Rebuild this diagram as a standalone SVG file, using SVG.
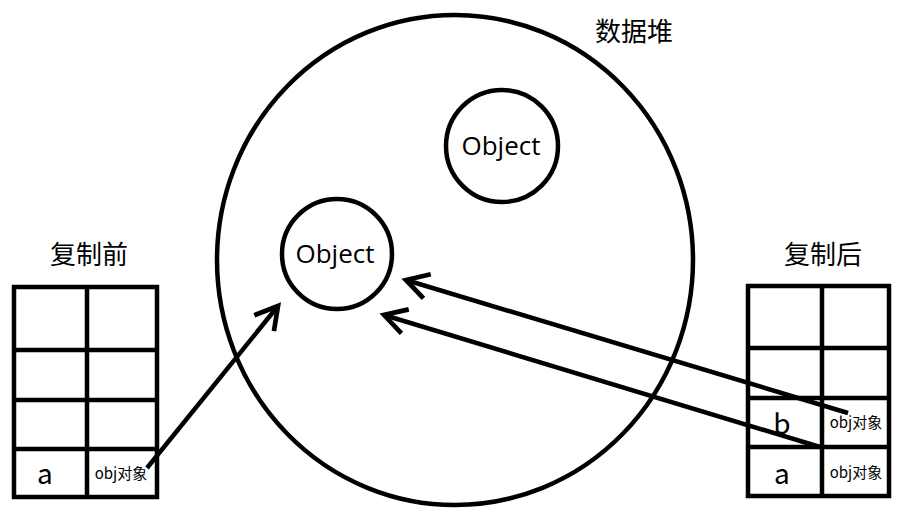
<svg xmlns="http://www.w3.org/2000/svg" width="924" height="513" viewBox="0 0 924 513">
<style>
.s{fill:none;stroke:#000;stroke-width:4.5}
.t{font-family:"Noto Sans CJK SC","Liberation Sans",sans-serif;fill:#000}
.big{font-size:26px}
.obj{font-family:"Open Sans","Liberation Sans",sans-serif;font-size:26px;text-anchor:middle}
</style>
<defs>
<marker id="ah" viewBox="0 0 20 20" refX="16" refY="10" markerWidth="7" markerHeight="7" markerUnits="strokeWidth" orient="auto">
<path d="M2,2 L16,10 L2,18" fill="none" stroke="#000" stroke-width="3"/>
</marker>
</defs>
<rect width="924" height="513" fill="#fff"/>
<g id="heap">
<ellipse class="s" cx="455" cy="260" rx="238" ry="245"/>
<text class="t big" x="634" y="41" text-anchor="middle">数据堆</text>
</g>
<g id="obj1"><circle class="s" cx="502" cy="146" r="56"/><text class="t obj" x="501" y="155">Object</text></g>
<g id="obj2"><circle class="s" cx="337" cy="254" r="55"/><text class="t obj" x="335" y="263">Object</text></g>
<g id="before">
<text class="t big" x="89" y="264" text-anchor="middle">复制前</text>
<rect class="s" x="14" y="287" width="143" height="210"/>
<path class="s" d="M87,287V497M14,350H157M14,400H157M14,449H157"/>
<text class="t" x="45" y="484" font-size="28" text-anchor="middle">a</text>
<text class="t" x="121" y="479" font-size="15" text-anchor="middle">obj对象</text>
</g>
<g id="after">
<text class="t big" x="823" y="264" text-anchor="middle">复制后</text>
<rect class="s" x="748" y="286" width="141" height="210"/>
<path class="s" d="M822,286V496M748,348H889M748,398H889M748,447H889"/>
<text class="t" x="782" y="434" font-size="28" text-anchor="middle">b</text>
<text class="t" x="856" y="428" font-size="15" text-anchor="middle">obj对象</text>
<text class="t" x="782" y="484" font-size="28" text-anchor="middle">a</text>
<text class="t" x="856" y="478" font-size="15" text-anchor="middle">obj对象</text>
</g>
<g id="connectors" class="s">
<line x1="147" y1="468" x2="278" y2="306" marker-end="url(#ah)"/>
<line x1="848" y1="413" x2="406" y2="280" marker-end="url(#ah)"/>
<line x1="820" y1="447" x2="384" y2="315" marker-end="url(#ah)"/>
</g>
</svg>
